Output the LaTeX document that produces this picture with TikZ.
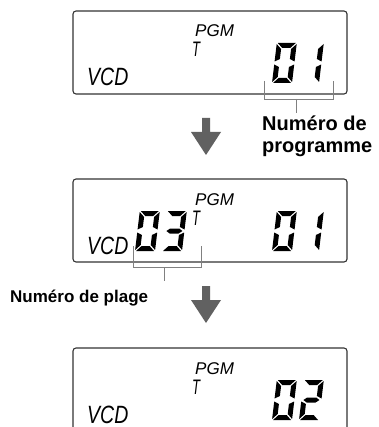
\documentclass[tikz,border=0pt]{standalone}
\usepackage{fontspec}
\setmainfont{Liberation Sans}
\newfontfamily\lcdfont{Liberation Sans}
\tikzset{
  lcdbox/.style={draw=black!80, line width=1.1pt, rounded corners=3pt},
  brack/.style={draw=black!50, line width=0.9pt},
  downarrow/.style={fill=black!62, draw=none},
  seg/.style={fill=black, draw=none},
  lbl/.style={inner sep=0pt, anchor=base west, align=left},
}
\def\segA{(1,40) -- (19,40) -- (14,35) -- (6,35) -- cycle}
\def\segD{(1,0) -- (19,0) -- (14,5) -- (6,5) -- cycle}
\def\segF{(0,39) -- (5,34) -- (5,24) -- (0,21.5) -- cycle}
\def\segE{(0,18.5) -- (5,16) -- (5,6) -- (0,1) -- cycle}
\def\segB{(20,39) -- (15,34) -- (15,24) -- (20,21.5) -- cycle}
\def\segC{(20,18.5) -- (15,16) -- (15,6) -- (20,1) -- cycle}
\def\segG{(2,20) -- (5.5,22.5) -- (14.5,22.5) -- (18,20) -- (14.5,17.5) -- (5.5,17.5) -- cycle}
\newcommand\lcddigit[3]{%
  \begin{scope}[shift={(#1,#2)}, y=1pt, xslant=0.12]
    \foreach \s in {#3} {\edef\segtmp{\noexpand\fill[seg] \csname seg\s\endcsname;}\segtmp}
  \end{scope}}
\newcommand\vcd[2]{\node[lbl] (#1) at (87,#2) {\lcdfont\itshape\fontsize{25}{25}\selectfont\scalebox{0.78}[1]{VCD}};}
\newcommand\pgmT[3]{%
  \node[lbl] (#1p) at (195,#2) {\lcdfont\itshape\fontsize{17}{17}\selectfont PGM};
  \node[lbl] (#1t) at (192,#3) {\lcdfont\itshape\fontsize{21}{21}\selectfont\scalebox{0.62}[1]{T}};}
\newcommand\bigarrow[1]{%
  \fill[downarrow] (202,#1) -- (210,#1) -- (210,#1+14) -- (221,#1+14) -- (206,#1+37) -- (191,#1+14) -- (202,#1+14) -- cycle;}
\begin{document}
\begin{tikzpicture}[x=1pt,y=-1pt]
\clip (0,0) rectangle (378,427);
\fill[white] (0,0) rectangle (378,427);
% box 1
\draw[lcdbox] (73,11) rectangle (347,94);
\vcd{v1}{86}
\pgmT{b1}{37}{57}
\lcddigit{272}{83}{A,B,C,D,E,F}
\lcddigit{299}{83}{B,C}
\draw[brack] (264,81) -- (264,99) -- (333,99) -- (333,81);
\draw[brack] (296,99) -- (296,113);
\node[lbl, font=\bfseries\fontsize{20}{22}\selectfont] (prog1) at (262,131) {Numéro de};
\node[lbl, font=\bfseries\fontsize{20}{22}\selectfont] (prog2) at (262,153) {programme};
\bigarrow{118}
% box 2
\draw[lcdbox] (73,179) rectangle (347,262);
\vcd{v2}{254}
\pgmT{b2}{205}{225}
\lcddigit{135}{251}{A,B,C,D,E,F}
\lcddigit{162}{251}{A,B,G,C,D}
\lcddigit{272}{251}{A,B,C,D,E,F}
\lcddigit{299}{251}{B,C}
\draw[brack] (133,246) -- (133,267) -- (201,267) -- (201,246);
\draw[brack] (164,267) -- (164,281);
\node[lbl, font=\bfseries\fontsize{17}{20}\selectfont] (plage) at (10,302) {Numéro de plage};
\bigarrow{286}
% box 3
\draw[lcdbox] (73,348) rectangle (347,440);
\vcd{v3}{423}
\pgmT{b3}{374}{394}
\lcddigit{272}{420}{A,B,C,D,E,F}
\lcddigit{299}{420}{A,B,G,E,D}
\end{tikzpicture}
\end{document}
